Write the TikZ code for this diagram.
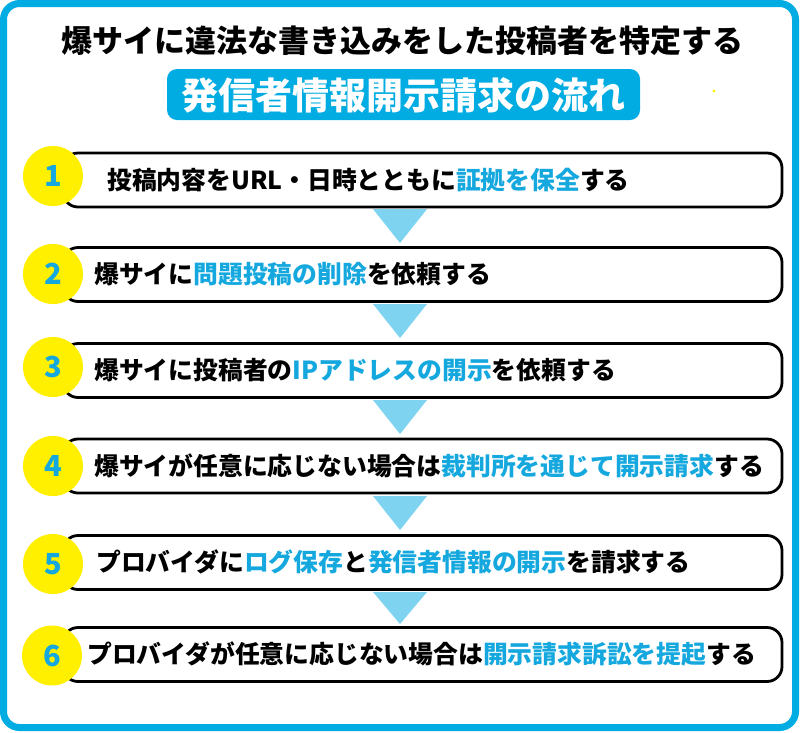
\documentclass[tikz,border=0pt]{standalone}
\usepackage{fontspec}
\newfontfamily\jp{Noto Sans CJK JP}
\definecolor{framecol}{RGB}{0,172,225}
\definecolor{hlcol}{RGB}{20,168,222}
\definecolor{yelcol}{RGB}{255,240,0}
\definecolor{tricol}{RGB}{125,211,240}
\newcommand{\hl}[1]{\textcolor{hlcol}{#1}}
\tikzset{
  stepbox/.style={draw=black, line width=2.8pt, rounded corners=15pt, fill=white,
    minimum width=719pt, minimum height=54pt, inner sep=0pt},
  numcirc/.style={circle, fill=yelcol, minimum size=60pt, inner sep=0pt,
    font=\jp\bfseries\fontsize{29}{29}\selectfont, text=hlcol},
  steptext/.style={anchor=base west, inner sep=0pt, font=\jp\bfseries\fontsize{24.8}{24.8}\selectfont},
  tri/.style={fill=tricol},
}
\begin{document}
\begin{tikzpicture}[x=1pt,y=-1pt]
\useasboundingbox (0,0) rectangle (800,732);
\fill[white] (0,0) rectangle (800,732);
\draw[framecol, line width=7pt, rounded corners=16pt] (3.5,3.5) rectangle (795.5,727.5);
% title
\node[anchor=base, inner sep=0pt, font=\jp\bfseries\fontsize{31}{31}\selectfont] (title) at (402.5,52) {爆サイに違法な書き込みをした投稿者を特定する};
\fill[framecol, rounded corners=10pt] (167,69) rectangle (640,120);
\node[anchor=base, inner sep=0pt, text=white, font=\jp\bfseries\fontsize{37}{37}\selectfont] (banner) at (403.5,109) {発信者情報開示請求の流れ};
\fill[yelcol] (714,91) circle (1.6pt);
% boxes
\node[stepbox] (b1) at (422.5,180) {};
\node[stepbox] (b2) at (422.5,274.5) {};
\node[stepbox] (b3) at (422.5,370.5) {};
\node[stepbox] (b4) at (422.5,466) {};
\node[stepbox] (b5) at (422.5,562.5) {};
\node[stepbox] (b6) at (422.5,654.5) {};
% triangles
\fill[tri] (373,209) -- (427,209) -- (400,243) -- cycle;
\fill[tri] (373,304) -- (427,304) -- (400,338) -- cycle;
\fill[tri] (373,400) -- (427,400) -- (400,434) -- cycle;
\fill[tri] (373,496) -- (427,496) -- (400,530) -- cycle;
\fill[tri] (373,592) -- (427,592) -- (400,624) -- cycle;
% circles
\node[numcirc] (c1) at (53,176) {1};
\node[numcirc] (c2) at (53,274) {2};
\node[numcirc] (c3) at (53,367) {3};
\node[numcirc] (c4) at (53,466) {4};
\node[numcirc] (c5) at (53,564) {5};
\node[numcirc] (c6) at (52,655.5) {6};
% texts
\node[steptext] (t1) at (107,189) {投稿内容をURL・日時とともに\hl{証拠を保全}する};
\node[steptext] (t2) at (94,283.5) {爆サイに\hl{問題投稿の削除}を依頼する};
\node[steptext] (t3) at (94,379.5) {爆サイに投稿者の\hl{IPアドレスの開示}を依頼する};
\node[steptext] (t4) at (94,475) {爆サイが任意に応じない場合は\hl{裁判所を通じて開示請求}する};
\node[steptext] (t5) at (96,571.5) {プロバイダに\hl{ログ保存}と\hl{発信者情報の開示}を請求する};
\node[steptext] (t6) at (87,663.5) {プロバイダが任意に応じない場合は\hl{開示請求訴訟を提起}する};
\end{tikzpicture}
\end{document}
